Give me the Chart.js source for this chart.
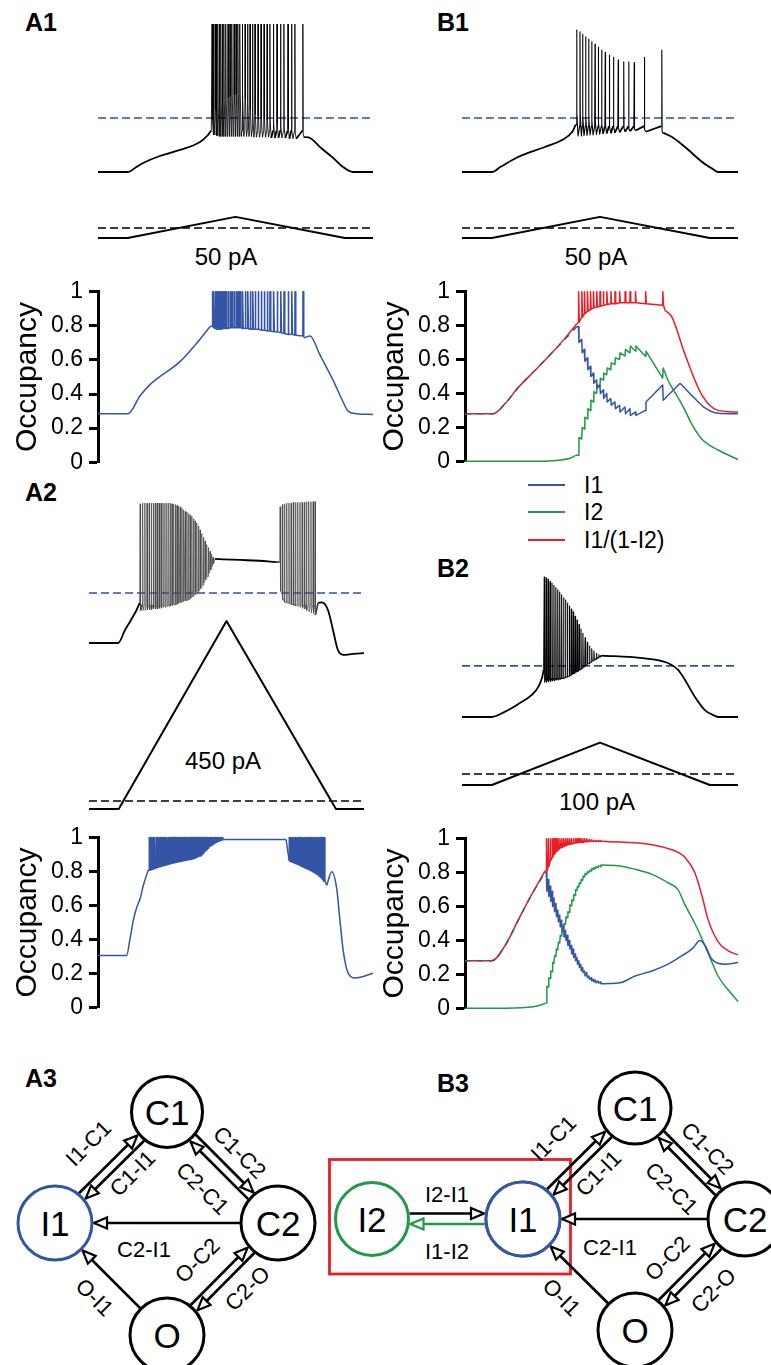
<!DOCTYPE html>
<html><head><meta charset="utf-8">
<script src="https://cdn.jsdelivr.net/npm/chart.js@4.4.1/dist/chart.umd.min.js"></script>
<style>
html,body{margin:0;padding:0;background:#fff;}
body{width:771px;height:1365px;position:relative;overflow:hidden;font-family:"Liberation Sans",Arial,Helvetica,sans-serif;color:#000;}
canvas{position:absolute;}
.t{position:absolute;line-height:1;white-space:nowrap;transform:translate(-50%,-50%);font-size:24px;}
.tl{position:absolute;line-height:1;white-space:nowrap;transform:translateY(-50%);font-size:23px;}
.pl{position:absolute;line-height:1;font-weight:bold;font-size:25px;transform:translateY(-50%);}
.lg{position:absolute;height:2px;width:37px;}
svg{position:absolute;left:0;top:1040px;}
</style></head><body>
<div class="pl" style="left:25px;top:22px">A1</div>
<div class="pl" style="left:437px;top:22px">B1</div>
<div class="pl" style="left:25px;top:492px">A2</div>
<div class="pl" style="left:437px;top:568px">B2</div>
<div class="pl" style="left:25px;top:1078px">A3</div>
<div class="pl" style="left:437px;top:1083px">B3</div>
<div class="t" style="left:226px;top:257px">50 pA</div>
<div class="t" style="left:596px;top:257px">50 pA</div>
<div class="t" style="left:223px;top:761px">450 pA</div>
<div class="t" style="left:597px;top:802px">100 pA</div>
<div class="lg" style="left:528px;top:484px;background:#3454a6"></div>
<div class="lg" style="left:528px;top:511px;background:#1e9a4a"></div>
<div class="lg" style="left:528px;top:539px;background:#ec1c24"></div>
<div class="tl" style="left:584px;top:485px">I1</div>
<div class="tl" style="left:584px;top:512px">I2</div>
<div class="tl" style="left:584px;top:540px">I1/(1-I2)</div>
<svg id="diag" width="771" height="325" viewBox="0 1040 771 325"></svg>
<script>
// ---------------- DATA (time in s, voltage in mV, current in pA, occupancy 0–1) ----------------
const rampT = [0, 1.08, 5, 8.98, 10];
const a1Current = [-45, -45, 50, -45, -45];
const b1Current = [-45, -45, 50, -45, -45];
const a2Current = [-20, -20, 450, -20, -20];
const b2Current = [-35, -35, 100, -35, -35];
const a1Threshold = -33.5, b1Threshold = -33.5, a2Threshold = -36.2, b2Threshold = -35.5;

// A1 voltage
const a1VPre = [[0,-70],[1.08,-70],[1.41,-66.4],[1.64,-63.9],[2.25,-59.2],[2.98,-55.1],[3.71,-49.7],[4.0,-45],[4.12,-42]];
const a1SpikeT = [4.15,4.20,4.26,4.31,4.36,4.42,4.47,4.53,4.58,4.65,4.73,4.80,4.87,4.95,5.02,5.09,5.16,5.25,5.35,5.44,5.53,5.62,5.71,5.82,5.93,6.04,6.15,6.25,6.38,6.51,6.64,6.76,6.91,7.04,7.16,7.45];
const a1SpikePeak = 30;
const a1SpikeMid = [-35,-30,-28,-27,-26,-25,-24,-23,-22,-21,-20,-19,-18.5,-18,-17.5,-17,-17,-16.6,-20,-24,-28,-30,-31,-32,-33,-34,-35,-36,-37,-38,-39,-40,-41,-42,-43,-44];
const a1SpikeTrough = [-45,-45,-45.5,-45.5,-46,-46,-46,-46,-46,-46,-46,-46,-46,-46,-46,-46,-46,-46,-46,-46,-46,-46.5,-46.5,-46.5,-46.5,-46.5,-46.5,-47,-47,-47,-47,-47,-47.5,-47.5,-47.5,-47];
const a1VPost = [[7.5,-46.4],[7.71,-47],[8.07,-53.1],[8.55,-60.5],[8.91,-66.6],[9.27,-70],[10,-70]];

// B1 voltage
const b1VPre = [[0,-70],[1.08,-70],[1.4,-66.5],[2.03,-59.9],[3.0,-53.1],[3.62,-48.4],[3.99,-43],[4.12,-38]];
const b1SpikeT = [4.155,4.275,4.37,4.48,4.59,4.70,4.82,4.94,5.06,5.19,5.34,5.49,5.66,5.86,6.04,6.24,6.61,7.24];
const b1SpikePeak = [25.9,24.8,23,21.4,19.9,18,16.3,14.2,12.4,10.9,9,7.5,5.7,4.5,4.3,3.9,7.5,12.4];
const b1SpikeMid = [-30,-31,-32,-33,-34,-35,-36,-37,-38,-38.5,-39,-39.5,-40,-40.5,-41,-41,-41.5,-42.5];
const b1SpikeTrough = [-45.7,-45.7,-45.5,-45.3,-45,-45,-44.7,-44.5,-44.2,-44,-43.8,-43.5,-43.2,-42.8,-42.5,-42,-42.8,-43.9];
const b1VPost = [[7.3,-43.6],[7.61,-46.4],[8.08,-53.1],[8.7,-63.2],[9.09,-68],[9.28,-70],[10,-70]];

// A2 voltage
const a2VPre = [[0,-70],[1.06,-70],[1.31,-61.2],[1.49,-55.6],[1.73,-47.7],[1.84,-43]];
const a2Burst1T = [1.86,1.95,2.03,2.11,2.19,2.27,2.34,2.41,2.48,2.55,2.62,2.69,2.76,2.83,2.90,2.96,3.02,3.08,3.14,3.20,3.26,3.32,3.38,3.44,3.50,3.56,3.62,3.68,3.74,3.80,3.86,3.92,3.98,4.04,4.10,4.16,4.22,4.28,4.34,4.40,4.46,4.51];
const a2Burst1Peak = [24,24.5,24.5,24.5,24.5,24.5,24.5,24.5,24.5,24.5,24.5,24.5,24.5,24.5,24.5,24.5,24,24,23.5,23,22.5,22,21,20,19,18.5,17.5,16.5,15.5,14,12.5,11,9,6.5,4,1.5,-1,-3.5,-5.5,-8,-10,-12];
const a2Burst1Trough = [-48,-48,-48,-47.5,-47.5,-47.5,-47,-47,-47,-46.5,-46.5,-46,-46,-45.5,-45.5,-45,-44.5,-44.5,-44,-43.5,-43,-42.5,-42,-41.5,-41.5,-41,-40.5,-39.5,-38.5,-37.5,-37,-36,-34.5,-33,-31,-29,-27,-25,-22.5,-20.5,-18.5,-16.5];
const a2Plateau = [[4.58,-13.2],[5.5,-13.9],[6.5,-14.8],[6.82,-15.3]];
const a2Burst2T = [6.95,7.03,7.11,7.19,7.27,7.35,7.43,7.51,7.59,7.67,7.75,7.83,7.91,7.99,8.07,8.15,8.22];
const a2Burst2Peak = [22,23.5,24,24.5,24.5,24.5,25,25,25,25,25,25,25.5,25.5,25.5,25.5,25.5];
const a2Burst2Trough = [-35,-41,-42.5,-43,-43.5,-44,-44.5,-45,-45.5,-46,-46.5,-47,-48,-49,-49.5,-50,-51];
const a2VPost = [[8.33,-43],[8.47,-42.5],[8.69,-47.7],[8.87,-61],[9.05,-74.7],[9.24,-78],[9.6,-77.4],[10,-76.8]];

// B2 voltage
const b2VPre = [[0,-70],[1.08,-70],[1.56,-66.4],[2.04,-61.2],[2.53,-55.1],[2.77,-49.5],[2.91,-42.8],[2.96,-38]];
const b2SpikeT = [2.98,3.05,3.12,3.19,3.26,3.33,3.40,3.47,3.54,3.61,3.68,3.75,3.82,3.89,3.96,4.03,4.10,4.17,4.24,4.31,4.38,4.46,4.54,4.62,4.70,4.78,4.87,4.96];
const b2SpikePeak = [24.6,24,23,21.5,20.5,19,17.5,16,14.5,12.5,10.5,9,7,5,3,1,-2,-4.5,-7.5,-10.5,-13.5,-16.5,-19.5,-22,-24,-25.5,-27,-28];
const b2SpikeTrough = [-46.5,-46.5,-46,-46,-45.5,-45.5,-45,-45,-44.5,-44,-43.5,-43,-42.5,-42,-41,-40.5,-39.5,-39,-38,-37,-36,-35,-34,-33,-32,-31,-30,-29.5];
const b2VPost = [[5.07,-28.5],[6.45,-30.1],[7.46,-33.5],[7.83,-38.2],[8.08,-45],[8.44,-56.5],[8.8,-65.3],[9.17,-69.3],[9.28,-70],[10,-70]];

// A1 occupancy (I1)
const a1OccPre = [[0,0.285],[1.09,0.285],[1.53,0.39],[1.89,0.455],[2.98,0.59],[3.53,0.687],[4.07,0.795]];
const a1OccFloor = [0.80,0.79,0.785,0.78,0.78,0.78,0.78,0.785,0.785,0.785,0.785,0.79,0.79,0.79,0.79,0.79,0.79,0.785,0.785,0.785,0.78,0.78,0.78,0.78,0.775,0.775,0.77,0.77,0.765,0.765,0.76,0.755,0.75,0.75,0.745,0.74];
const a1OccPost = [[7.5,0.73],[7.71,0.74],[8.07,0.63],[8.55,0.48],[8.91,0.355],[9.09,0.30],[9.4,0.285],[10,0.28]];

// A2 occupancy (I1)
const a2OccPre = [[0,0.305],[1.04,0.305],[1.16,0.40],[1.28,0.51],[1.41,0.59],[1.53,0.64],[1.65,0.72],[1.83,0.81]];
const a2OccFloor1 = [0.81,0.815,0.82,0.825,0.83,0.833,0.836,0.84,0.843,0.846,0.849,0.852,0.855,0.857,0.86,0.862,0.864,0.866,0.868,0.87,0.872,0.874,0.876,0.879,0.883,0.887,0.891,0.895,0.90,0.91,0.92,0.93,0.94,0.95,0.957,0.963,0.97,0.976,0.98,0.984,0.987,0.99];
const a2OccMid = [[4.55,0.99],[6.84,0.99]];
const a2OccFloor2 = [0.866,0.86,0.855,0.85,0.845,0.838,0.832,0.826,0.82,0.814,0.808,0.80,0.792,0.784,0.772,0.76,0.745];
const a2OccPost = [[8.32,0.72],[8.5,0.80],[8.68,0.70],[8.8,0.51],[8.92,0.33],[9.1,0.20],[9.35,0.173],[10,0.20]];
const occSpikePeak = 1;

// B1 occupancies
const b1I1Pre = [[0,0.28],[1.03,0.28],[1.47,0.34],[1.95,0.435],[2.56,0.535],[3.17,0.637],[3.66,0.72],[4.09,0.794]];
const b1I1Before = [0.795,0.72,0.66,0.61,0.56,0.52,0.48,0.45,0.42,0.40,0.37,0.35,0.33,0.32,0.31,0.29,0.30,0.45];
const b1I1After = [0.70,0.64,0.59,0.54,0.50,0.46,0.43,0.40,0.37,0.35,0.33,0.31,0.29,0.28,0.27,0.27,0.35,0.36];
const b1I1Post = [[7.88,0.46],[8.42,0.37],[8.79,0.315],[9.27,0.283],[10,0.28]];
const b1RatioPre = [[0,0.28],[1.03,0.28],[1.47,0.34],[1.95,0.435],[2.56,0.535],[3.17,0.637],[3.66,0.725],[4.09,0.81]];
const b1RatioFloor = [0.82,0.85,0.87,0.885,0.895,0.905,0.91,0.915,0.92,0.925,0.93,0.93,0.935,0.935,0.935,0.935,0.93,0.92];
const b1RatioPost = [[7.33,0.89],[7.58,0.85],[8.06,0.63],[8.68,0.39],[9.27,0.30],[10,0.29]];
const b1I2Pre = [[0,0],[2.5,0],[3.17,0.003],[3.9,0.02],[4.05,0.035]];
const b1I2Before = [0.035,0.13,0.19,0.25,0.30,0.35,0.40,0.44,0.48,0.51,0.54,0.57,0.60,0.62,0.64,0.65,0.62,0.49];
const b1I2After = [0.14,0.20,0.26,0.31,0.36,0.41,0.45,0.49,0.52,0.55,0.58,0.61,0.64,0.66,0.68,0.68,0.65,0.55];
const b1I2Post = [[7.45,0.47],[7.75,0.39],[8.06,0.30],[8.3,0.22],[8.68,0.13],[9.27,0.066],[10,0.01]];

// B2 occupancies
const b2I1Pre = [[0,0.28],[0.98,0.28],[1.47,0.37],[1.95,0.52],[2.44,0.67],[2.81,0.77],[2.93,0.80]];
const b2I1Before = [0.80,0.76,0.72,0.69,0.65,0.62,0.58,0.55,0.52,0.49,0.46,0.43,0.40,0.37,0.35,0.32,0.30,0.28,0.26,0.24,0.22,0.21,0.19,0.18,0.17,0.165,0.16,0.155];
const b2I1After = [0.69,0.66,0.63,0.60,0.57,0.54,0.51,0.48,0.45,0.42,0.40,0.37,0.35,0.32,0.30,0.28,0.26,0.24,0.22,0.21,0.19,0.18,0.17,0.16,0.155,0.15,0.148,0.145];
const b2I1Post = [[5.13,0.145],[5.68,0.15],[6.23,0.19],[6.85,0.22],[7.44,0.26],[7.95,0.31],[8.32,0.35],[8.61,0.40],[8.79,0.37],[9.04,0.29],[9.27,0.265],[9.52,0.26],[10,0.27]];
const b2RatioPre = [[0,0.28],[0.98,0.28],[1.47,0.37],[1.95,0.52],[2.44,0.67],[2.81,0.775],[2.93,0.81]];
const b2RatioFloor = [0.81,0.84,0.87,0.89,0.91,0.925,0.935,0.945,0.95,0.955,0.96,0.965,0.968,0.97,0.972,0.975,0.977,0.978,0.98,0.98,0.982,0.983,0.984,0.985,0.985,0.985,0.985,0.985];
const b2RatioPeak = [1,1,1,1,1,1,1,1,1,1,1,1,1,1,1,1,1,1,1,1,1,1,0.995,0.993,0.991,0.99,0.99,0.99];
const b2RatioPost = [[5.02,0.985],[6.85,0.965],[7.58,0.935],[7.8,0.92],[8.06,0.89],[8.42,0.80],[8.67,0.67],[8.91,0.52],[9.28,0.39],[9.63,0.34],[10,0.315]];
const b2I2Pre = [[0,0],[1.5,0],[2.5,0.008],[2.8,0.02],[2.95,0.03]];
const b2I2Before = [0.03,0.125,0.175,0.215,0.265,0.305,0.345,0.385,0.425,0.465,0.495,0.535,0.565,0.605,0.635,0.665,0.695,0.715,0.735,0.755,0.775,0.79,0.80,0.81,0.82,0.825,0.83,0.835];
const b2I2After = [0.13,0.18,0.22,0.27,0.31,0.35,0.39,0.43,0.47,0.50,0.54,0.57,0.61,0.64,0.67,0.70,0.72,0.74,0.76,0.78,0.795,0.805,0.815,0.825,0.83,0.835,0.84,0.845];
const b2I2Post = [[5.02,0.845],[5.68,0.84],[6.23,0.82],[6.85,0.79],[7.44,0.74],[7.8,0.70],[8.06,0.61],[8.42,0.50],[8.68,0.41],[8.97,0.30],[9.27,0.19],[9.63,0.11],[10,0.04]];

const occTicks = [0, 0.2, 0.4, 0.6, 0.8, 1];

// ---------------- BUILDERS ----------------
const FF = '"Liberation Sans", Arial, Helvetica, sans-serif';
const BLUE = '#3454a6', GREEN = '#1e9a4a', RED = '#ec1c24', DBLUE = '#2f50ad';
Chart.defaults.font.family = FF;
const pairs = a => a.map(p => ({x: p[0], y: p[1]}));
const val = (v, i) => Array.isArray(v) ? v[i] : v;
function vSpikes(times, peaks, troughs, onset, startV, mids) {
  const out = []; let prev = startV;
  times.forEach((t, i) => {
    out.push({x: t - 0.012, y: Math.max(prev, onset)}, {x: t, y: val(peaks, i)});
    if (mids) out.push({x: t + 0.01, y: mids[i]}, {x: t + 0.05, y: troughs[i]});
    else out.push({x: t + 0.015, y: troughs[i]});
    prev = troughs[i];
  });
  return out;
}
function occSpikes(times, floors, peaks) {
  const out = [];
  times.forEach((t, i) => out.push({x: t, y: floors[i]}, {x: t + 0.006, y: val(peaks, i)}, {x: t + 0.03, y: floors[i]}));
  return out;
}
function steps(times, before, after) {
  const out = [];
  times.forEach((t, i) => out.push({x: t, y: before[i]}, {x: t + 0.02, y: after[i]}));
  return out;
}
const S = pts => ({pts: pairs(pts), smooth: true});   // slow (subthreshold) part, drawn smooth
const K = pts => ({pts, smooth: false});              // spiking part, drawn sharp
// one dataset per part; sharp parts are joined to their neighbours
function trace(parts, base, thinW, spikeColor) {
  return parts.map((p, i) => {
    let pts = p.pts.slice();
    if (!p.smooth) {
      if (i > 0) { const q = parts[i - 1].pts; pts.unshift(q[q.length - 1]); }
      if (i < parts.length - 1) pts.push(parts[i + 1].pts[0]);
    }
    const d = Object.assign({data: pts, clip: false}, base);
    if (p.smooth) d.cubicInterpolationMode = 'monotone';
    else {
      if (thinW) d.segment = Object.assign({}, d.segment || {}, {borderWidth: s => Math.abs(s.p1.parsed.x - s.p0.parsed.x) < 0.06 ? thinW : base.borderWidth});
      if (spikeColor) d.borderColor = spikeColor;
    }
    return d;
  });
}
const ramp = cur => rampT.map((t, i) => ({x: t, y: cur[i]}));
function lin(v0, px0, ppu, top, bottom) { return {min: v0 - (bottom - px0) / ppu, max: v0 + (px0 - top) / ppu}; }
function canvasAt(left, top, w, h) {
  const c = document.createElement('canvas');
  c.width = w; c.height = h;
  Object.assign(c.style, {left: left + 'px', top: top + 'px', width: w + 'px', height: h + 'px'});
  document.body.appendChild(c); return c;
}
const baseOpts = {responsive: false, animation: false, devicePixelRatio: 1, events: [],
  plugins: {legend: {display: false}, tooltip: {enabled: false}},
  elements: {point: {radius: 0}, line: {tension: 0, borderJoinStyle: 'round', borderCapStyle: 'butt'}}};

function voltagePanel(c) {
  const P = 6, W = Math.round(c.pps * 10);
  const cv = canvasAt(c.x0 - P, c.top - P, W + 2 * P, c.bottom - c.top + 2 * P);
  const yV = lin(-70, c.baseY, 1.48, c.top, c.bottom);
  const yI = lin(0, c.zeroY, c.ppa, c.top, c.bottom);
  new Chart(cv, {type: 'line', data: {datasets: [
    ...trace(c.parts, {yAxisID: 'yV', borderColor: '#000', borderWidth: 1.8}, c.thin, c.spikeColor),
    {data: [{x: 0, y: c.thr}, {x: 10, y: c.thr}], yAxisID: 'yV', borderColor: DBLUE, borderWidth: 1.7, borderDash: [8, 4], clip: false},
    {data: ramp(c.cur), yAxisID: 'yI', borderColor: '#000', borderWidth: 2, clip: false},
    {data: [{x: 0, y: 0}, {x: 10, y: 0}], yAxisID: 'yI', borderColor: '#000', borderWidth: 1.7, borderDash: [8, 4], clip: false}
  ]}, options: Object.assign({}, baseOpts, {
    layout: {padding: P}, parsing: false,
    scales: {x: {type: 'linear', min: 0, max: 10, display: false},
      yV: {type: 'linear', axis: 'y', min: yV.min, max: yV.max, display: false},
      yI: {type: 'linear', axis: 'y', min: yI.min, max: yI.max, display: false}}
  })});
}

function occPanel(axisX, y1px, y0px, pps, datasets) {
  const P = 14, R = 4, AX = 98, W = Math.round(pps * 10);
  const cv = canvasAt(axisX - AX, y1px - P, AX + W + R, y0px - y1px + 2 * P);
  new Chart(cv, {type: 'line', data: {datasets}, options: Object.assign({}, baseOpts, {
    layout: {padding: {top: P, bottom: P, left: 0, right: R}}, parsing: false,
    scales: {
      x: {type: 'linear', min: 0, max: 10, display: false},
      y: {type: 'linear', position: 'left', min: 0, max: 1,
        afterFit: s => { s.width = AX; },
        afterBuildTicks: s => { s.ticks = occTicks.map(v => ({value: v})); },
        ticks: {color: '#000', font: {size: 23, family: FF}, padding: 6, callback: v => String(Math.round(v * 10) / 10)},
        grid: {drawOnChartArea: false, drawTicks: true, tickLength: 9, tickWidth: 3, tickColor: '#000', color: '#000'},
        border: {display: true, color: '#000', width: 3},
        title: {display: true, text: 'Occupancy', color: '#000', font: {size: 30, family: FF}, padding: {top: 10, bottom: 0}}
      }
    }
  })});
}

// ---------------- VOLTAGE / CURRENT PANELS ----------------
voltagePanel({x0: 98, pps: 27.5, top: 20, bottom: 245, baseY: 172, zeroY: 228, ppa: 10 / 45, thr: a1Threshold, cur: a1Current, thin: 0.85,
  parts: [S(a1VPre), K(vSpikes(a1SpikeT, a1SpikePeak, a1SpikeTrough, -42, -42, a1SpikeMid)), S(a1VPost)]});
voltagePanel({x0: 462, pps: 27.6, top: 20, bottom: 245, baseY: 172, zeroY: 228, ppa: 10 / 45, thr: b1Threshold, cur: b1Current, thin: 1.1,
  parts: [S(b1VPre), K(vSpikes(b1SpikeT, b1SpikePeak, b1SpikeTrough, -39, -38, b1SpikeMid)), S(b1VPost)]});
voltagePanel({x0: 89, pps: 27.5, top: 495, bottom: 815, baseY: 643, zeroY: 801, ppa: 8 / 20, thr: a2Threshold, cur: a2Current, thin: 0.75, spikeColor: '#4a4a4a',
  parts: [S(a2VPre), K(vSpikes(a2Burst1T, a2Burst1Peak, a2Burst1Trough, -44, -43)), S(a2Plateau),
          K(vSpikes(a2Burst2T, a2Burst2Peak, a2Burst2Trough, -44, -15.3)), S(a2VPost)]});
voltagePanel({x0: 462, pps: 27.6, top: 570, bottom: 792, baseY: 717, zeroY: 774, ppa: 11 / 35, thr: b2Threshold, cur: b2Current, thin: 1.1,
  parts: [S(b2VPre), K(vSpikes(b2SpikeT, b2SpikePeak, b2SpikeTrough, -44, -38)), S(b2VPost)]});

// ---------------- OCCUPANCY PANELS ----------------
const occBase = (color, extra) => Object.assign({borderColor: color, borderWidth: 1.5}, extra || {});
occPanel(98, 286, 468, 27.5, trace([S(a1OccPre), K(occSpikes(a1SpikeT, a1OccFloor, occSpikePeak)), S(a1OccPost)], occBase(BLUE), 1.6));
occPanel(98, 832, 1013, 27.5, trace([S(a2OccPre), K(occSpikes(a2Burst1T, a2OccFloor1, occSpikePeak)), S(a2OccMid),
  K(occSpikes(a2Burst2T, a2OccFloor2, occSpikePeak)), S(a2OccPost)], occBase(BLUE), 2.2));
const dashBefore = on => ({segment: {borderDash: ctx => ctx.p1.parsed.x <= on ? [6, 6] : undefined}});
occPanel(465, 286, 467, 27.3, [
  ...trace([S(b1I1Pre), K(steps(b1SpikeT, b1I1Before, b1I1After)), S(b1I1Post)], occBase(BLUE, Object.assign({order: 0}, dashBefore(4.1)))),
  ...trace([S(b1I2Pre), K(steps(b1SpikeT, b1I2Before, b1I2After)), S(b1I2Post)], occBase(GREEN, {order: 2})),
  ...trace([S(b1RatioPre), K(occSpikes(b1SpikeT, b1RatioFloor, occSpikePeak)), S(b1RatioPost)], occBase(RED, {order: 1}))]);
occPanel(465, 833, 1014, 27.3, [
  ...trace([S(b2I1Pre), K(steps(b2SpikeT, b2I1Before, b2I1After)), S(b2I1Post)], occBase(BLUE, Object.assign({order: 0}, dashBefore(2.94)))),
  ...trace([S(b2I2Pre), K(steps(b2SpikeT, b2I2Before, b2I2After)), S(b2I2Post)], occBase(GREEN, {order: 2})),
  ...trace([S(b2RatioPre), K(occSpikes(b2SpikeT, b2RatioFloor, b2RatioPeak)), S(b2RatioPost)], occBase(RED, {order: 1}))]);

// ---------------- STATE DIAGRAMS (A3, B3) ----------------
const NS = 'http://www.w3.org/2000/svg', svg = document.getElementById('diag');
function el(name, attrs, parent) { const e = document.createElementNS(NS, name); for (const k in attrs) e.setAttribute(k, attrs[k]); (parent || svg).appendChild(e); return e; }
const defs = el('defs', {});
[['hb', '#000'], ['hg', GREEN]].forEach(([id, col]) => {
  const m = el('marker', {id, markerWidth: 18, markerHeight: 16, refX: 15, refY: 8, orient: 'auto', markerUnits: 'userSpaceOnUse'}, defs);
  el('path', {d: 'M2,2.5 L15,8 L2,13.5 Z', fill: '#fff', stroke: col, 'stroke-width': 2.2, 'stroke-linejoin': 'miter'}, m);
});
function arr(a, b, ox, oy, col, mk) {
  const dx = b.x - a.x, dy = b.y - a.y, L = Math.hypot(dx, dy), ux = dx / L, uy = dy / L;
  const g1 = a.r + 1, g2 = b.r + 2;
  el('line', {x1: a.x + ux * g1 + ox, y1: a.y + uy * g1 + oy, x2: b.x - ux * g2 + ox, y2: b.y - uy * g2 + oy,
    stroke: col || '#000', 'stroke-width': 2.7, 'marker-end': `url(#${mk || 'hb'})`});
}
function node(n, col) {
  el('circle', {cx: n.x, cy: n.y, r: n.r, fill: '#fff', stroke: col || '#000', 'stroke-width': 3});
  el('text', {x: n.x, y: n.y + 12.5, 'text-anchor': 'middle', 'font-size': 35, 'font-family': FF, fill: '#000'}).textContent = n.label;
}
function lab(txt, x, y, rot) {
  el('text', {x, y: y + 8, 'text-anchor': 'middle', 'font-size': 22, 'font-family': FF, fill: '#000',
    transform: `rotate(${rot || 0} ${x} ${y})`}).textContent = txt;
}
function diagram(C1, I1, C2, O) {
  const d = 3;
  arr(I1, C1, -d, -d); arr(C1, I1, d, d);
  arr(C1, C2, d, -d); arr(C2, C1, -d, d);
  arr(O, C2, -d, -d); arr(C2, O, d, d);
  arr(C2, I1, 0, 0); arr(O, I1, 0, 0);
  node(C1); node(I1, BLUE); node(C2); node(O);
}
// A3
const aC1 = {x: 167, y: 1112, r: 35.5, label: 'C1'}, aI1 = {x: 55, y: 1223, r: 37, label: 'I1'},
      aC2 = {x: 278, y: 1223, r: 37, label: 'C2'}, aO = {x: 167, y: 1335, r: 37, label: 'O'};
diagram(aC1, aI1, aC2, aO);
lab('I1-C1', 88, 1143, -45); lab('C1-I1', 132, 1173, -45); lab('C1-C2', 240, 1152, 45); lab('C2-C1', 203, 1188, 45);
lab('C2-I1', 144, 1249, 0); lab('O-I1', 95, 1297, 45); lab('O-C2', 197, 1260, -45); lab('C2-O', 247, 1288, -45);
// B3
const bC1 = {x: 635, y: 1108, r: 36, label: 'C1'}, bI1 = {x: 523, y: 1219, r: 37, label: 'I1'},
      bC2 = {x: 745, y: 1219, r: 37, label: 'C2'}, bO = {x: 635, y: 1330, r: 37, label: 'O'},
      bI2 = {x: 372, y: 1219, r: 36.5, label: 'I2'};
el('rect', {x: 329.5, y: 1159.5, width: 241, height: 114.5, fill: 'none', stroke: RED, 'stroke-width': 2.8});
diagram(bC1, bI1, bC2, bO);
arr(bI2, bI1, 0, -5.5); arr(bI1, bI2, 0, 5, GREEN, 'hg');
node(bI2, GREEN); node(bI1, BLUE);
lab('I1-C1', 553, 1138, -45); lab('C1-I1', 598, 1173, -45); lab('C1-C2', 708, 1148, 45); lab('C2-C1', 672, 1188, 45);
lab('C2-I1', 610, 1247, 0); lab('O-I1', 562, 1297, 45); lab('O-C2', 667, 1258, -45); lab('C2-O', 713, 1290, -45);
lab('I2-I1', 447, 1194, 0); lab('I1-I2', 447, 1251, 0);
</script>
</body></html>
